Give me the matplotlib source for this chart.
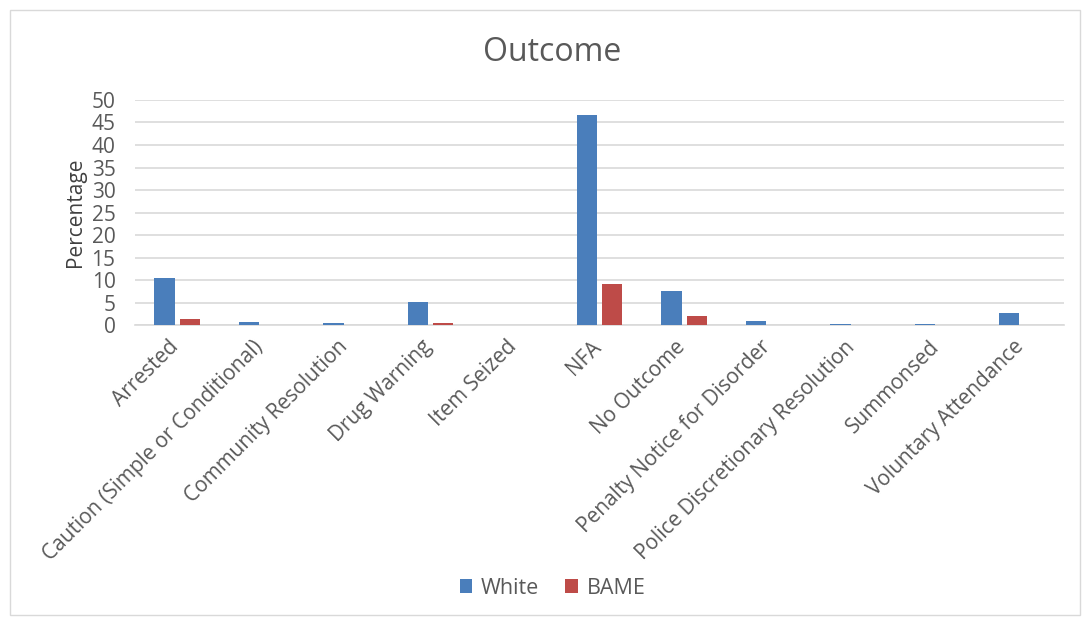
import matplotlib.pyplot as plt
import matplotlib.transforms as mtransforms
import numpy as np
from matplotlib.patches import Rectangle

categories = ['Arrested', 'Caution (Simple or Conditional)', 'Community Resolution',
              'Drug Warning', 'Item Seized', 'NFA', 'No Outcome',
              'Penalty Notice for Disorder', 'Police Discretionary Resolution',
              'Summonsed', 'Voluntary Attendance']
white = [10.4, 0.7, 0.4, 5.1, 0.0, 46.7, 7.6, 0.9, 0.3, 0.3, 2.6]
bame = [1.3, 0.0, 0.0, 0.4, 0.0, 9.1, 2.0, 0.0, 0.0, 0.0, 0.0]

plt.rcParams['font.family'] = ['Open Sans', 'DejaVu Sans']
TXT = '#595959'

fig = plt.figure(figsize=(10.92, 6.17), dpi=100)
ax = fig.add_axes([0.1236, 0.473, 0.851, 0.365])

x = np.arange(len(categories))
ax.bar(x - 0.15, white, 0.24, color='#4a7ebb', label='White', zorder=3)
ax.bar(x + 0.15, bame, 0.24, color='#be4b48', label='BAME', zorder=3)

ax.set_xlim(-0.5, len(categories) - 0.5)
ax.set_ylim(0, 50)
ax.set_yticks(range(0, 51, 5))
ax.yaxis.grid(True, color='#d9d9d9', linewidth=1.2, zorder=0)
for s in ['top', 'right', 'left']:
    ax.spines[s].set_visible(False)
ax.spines['bottom'].set_color('#d9d9d9')
ax.spines['bottom'].set_linewidth(1.2)
ax.tick_params(axis='both', length=0, colors=TXT)
ax.tick_params(axis='y', pad=14, labelsize=15)
ax.tick_params(axis='x', pad=6)
ax.set_xticks(x)
ax.set_xticklabels(categories, rotation=45, ha='right', rotation_mode='anchor', fontsize=15)
# nudge the rotated labels so their ends sit under the ticks
shift = mtransforms.ScaledTranslation(-0.09, -0.03, fig.dpi_scale_trans)
for lbl in ax.get_xticklabels():
    lbl.set_transform(lbl.get_transform() + shift)
ax.set_ylabel('Percentage', color='#404040', fontsize=15, labelpad=4)

fig.text(0.506, 0.915, 'Outcome', ha='center', va='center', fontsize=23, color=TXT)
fig.legend(loc='center', bbox_to_anchor=(0.506, 0.047), ncol=2, frameon=False,
           fontsize=15.5, labelcolor=TXT, handlelength=0.6, handleheight=0.6,
           columnspacing=1.2, handletextpad=0.4)

fig.patches.append(Rectangle((0.009, 0.003), 0.98, 0.98, transform=fig.transFigure,
                             fill=False, edgecolor='#d9d9d9', linewidth=1))

fig.savefig('out.png', dpi=100)
